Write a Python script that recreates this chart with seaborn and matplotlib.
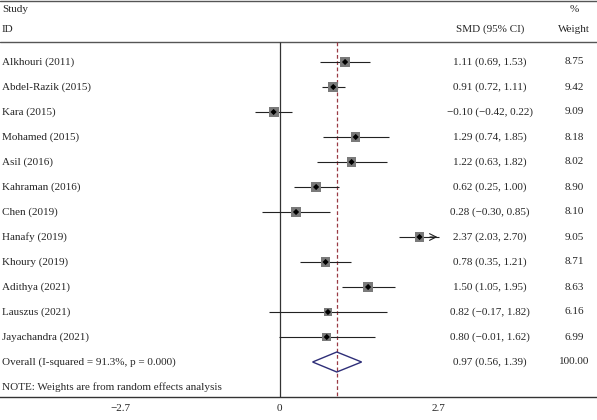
import numpy as np
import matplotlib
matplotlib.use("Agg")
import matplotlib.pyplot as plt
import seaborn as sns
import pandas as pd

# Study data
studies = ["Alkhouri (2011)", "Abdel-Razik (2015)", "Kara (2015)", "Mohamed (2015)",
           "Asil (2016)", "Kahraman (2016)", "Chen (2019)", "Hanafy (2019)",
           "Khoury (2019)", "Adithya (2021)", "Lauszus (2021)", "Jayachandra (2021)"]
smd = [1.11, 0.91, -0.10, 1.29, 1.22, 0.62, 0.28, 2.37, 0.78, 1.50, 0.82, 0.80]
lower = [0.69, 0.72, -0.42, 0.74, 0.63, 0.25, -0.30, 2.03, 0.35, 1.05, -0.17, -0.01]
upper = [1.53, 1.11, 0.22, 1.85, 1.82, 1.00, 0.85, 2.70, 1.21, 1.95, 1.82, 1.62]
weights = [8.75, 9.42, 9.09, 8.18, 8.02, 8.90, 8.10, 9.05, 8.71, 8.63, 6.16, 6.99]

overall_est = 0.97
overall_ci = (0.56, 1.39)
overall_weight = "100.00"
overall_label = "Overall (I-squared = 91.3%, p = 0.000)"
note = "NOTE: Weights are from random effects analysis"
xticks = [-2.7, 0, 2.7]
xlim_data = (-2.7, 2.7)

df = pd.DataFrame({"study": studies, "smd": smd, "lo": lower, "hi": upper, "w": weights})
df["row"] = np.arange(len(df))

sns.set_theme(style="white")
plt.rcParams["font.family"] = ["Liberation Serif", "DejaVu Serif"]
fs = 8

fig = plt.figure(figsize=(5.97, 4.2), dpi=100)
ax = fig.add_axes([0, 23 / 420, 1, 397 / 420])

# map data units to pixel columns: -2.7 -> 122px, 2.7 -> 441px
ppu = (441 - 122) / 5.4
ax.set_xlim(-2.7 - 120 / ppu, 2.7 + (597 - 439) / ppu)
ax.set_ylim(13.4, -2.48)

for s in ["top", "left", "right"]:
    ax.spines[s].set_visible(False)
ax.spines["bottom"].set_color("#333333")
ax.spines["bottom"].set_linewidth(1.0)
ax.set_xticks(xticks)
ax.set_xticklabels(["\u22122.7", "0", "2.7"], fontsize=fs)
ax.tick_params(axis="x", direction="out", length=3, width=0.8, color="#333333", pad=2)
ax.set_yticks([])

# header lines
ax.axhline(-2.44, color="#555555", lw=1.0)
ax.axhline(-0.8, color="#555555", lw=1.0)

# null line and overall line
ax.vlines(0, -0.8, 13.4, color="#333333", lw=0.9)
ax.vlines(overall_est, -0.8, 13.4, color="#9a3a44", lw=0.9, linestyles=(0, (3, 2)))

# CI lines, clipped with an arrow at the axis limit
for _, r in df.iterrows():
    hi = min(r["hi"], xlim_data[1])
    ax.hlines(r["row"], max(r["lo"], xlim_data[0]), hi, color="#222222", lw=0.8, zorder=2)
    if r["hi"] >= xlim_data[1]:
        ax.annotate("", xy=(hi + 0.02, r["row"]), xytext=(hi - 0.2, r["row"]),
                    arrowprops=dict(arrowstyle="->", color="#222222", lw=0.8))

# weighted grey boxes (area ~ weight) and black centres
ax.scatter(df["smd"], df["row"], s=df["w"] * 5.5, marker="s", color="#7a7a7a",
           edgecolors="none", zorder=3)
sns.scatterplot(data=df, x="smd", y="row", marker="D", s=10, color="black",
                edgecolor="none", legend=False, ax=ax, zorder=4)

# overall diamond
orow = len(df)
lo_o, hi_o = overall_ci
ax.fill([lo_o, overall_est, hi_o, overall_est, lo_o],
        [orow, orow - 0.4, orow, orow + 0.4, orow],
        facecolor="none", edgecolor="#2e2e78", lw=1.0, zorder=3)

# text columns
trans = ax.get_yaxis_transform()
x_name = 2 / 597
x_smd = 490 / 597
x_w = 574 / 597
ax.text(x_name, -2.08, "Study", transform=trans, fontsize=fs, va="center")
ax.text(x_name, -1.32, "ID", transform=trans, fontsize=fs, va="center")
ax.text(x_smd, -1.32, "SMD (95% CI)", transform=trans, fontsize=fs, va="center", ha="center")
ax.text(x_w, -2.08, "%", transform=trans, fontsize=fs, va="center", ha="center")
ax.text(x_w, -1.32, "Weight", transform=trans, fontsize=fs, va="center", ha="center")


def fmt(v):
    return f"{v:.2f}".replace("-", "\u2212")


for _, r in df.iterrows():
    ax.text(x_name, r["row"], r["study"], transform=trans, fontsize=fs, va="center")
    ax.text(x_smd, r["row"], f"{fmt(r['smd'])} ({fmt(r['lo'])}, {fmt(r['hi'])})",
            transform=trans, fontsize=fs, va="center", ha="center")
    ax.text(x_w, r["row"], f"{r['w']:.2f}", transform=trans, fontsize=fs,
            va="center", ha="center")

ax.text(x_name, orow, overall_label, transform=trans, fontsize=fs, va="center")
ax.text(x_smd, orow, f"{fmt(overall_est)} ({fmt(lo_o)}, {fmt(hi_o)})",
        transform=trans, fontsize=fs, va="center", ha="center")
ax.text(x_w, orow, overall_weight, transform=trans, fontsize=fs, va="center", ha="center")
ax.text(x_name, orow + 1, note, transform=trans, fontsize=fs, va="center")

ax.set_xlabel("")
ax.set_ylabel("")
fig.savefig("out.png", dpi=100)
